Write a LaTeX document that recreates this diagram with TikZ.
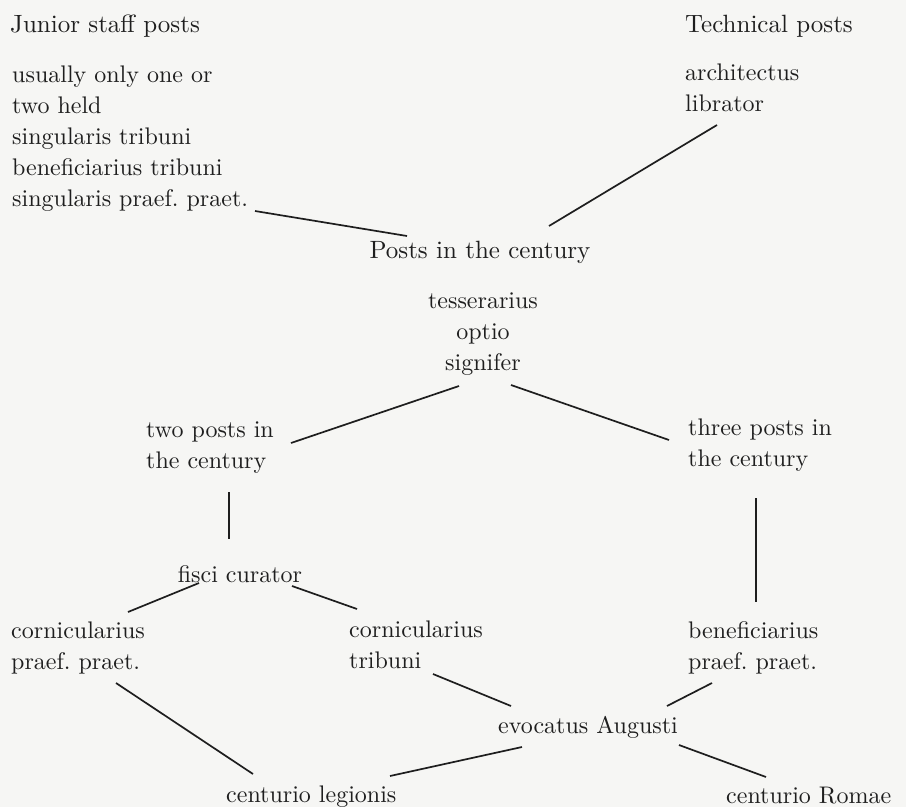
\documentclass[tikz,border=0pt]{standalone}
\usepackage{fontspec}
\setmainfont{lmroman10-regular.otf}[Ligatures=TeX]
\frenchspacing
\definecolor{ink}{HTML}{1E1E1E}
\definecolor{paper}{HTML}{F6F6F4}
\begin{document}
\begin{tikzpicture}[x=1pt,y=-1pt,
  txt/.style={inner sep=0pt, text=ink, font=\fontsize{24}{31}\selectfont, align=left, anchor=base west},
  hd/.style={txt, font=\fontsize{25}{31}\selectfont},
  mid/.style={align=center, anchor=base},
  link/.style={draw=ink, line width=1.7pt}]
\fill[paper] (0,0) rectangle (906,807);
\useasboundingbox (0,0) rectangle (906,807);

% multi-line nodes are placed by the baseline of their last line
\node[hd] (jhead) at (10,32) {Junior staff posts};
\node[txt] (jlist) at (12,206) {usually only one or\\two held\\singularis tribuni\\beneficiarius tribuni\\singularis praef. praet.};
\node[hd] (thead) at (685,32) {Technical posts};
\node[txt] (tlist) at (685,111) {architectus\\librator};
\node[hd,mid] (posts) at (480,258) {Posts in the century};
\node[txt,mid] (tos) at (483,370) {tesserarius\\optio\\signifer};
\node[txt] (two) at (146,468) {two posts in\\the century};
\node[txt] (three) at (688,466) {three posts in\\the century};
\node[txt,mid] (fisci) at (240,582) {fisci curator};
\node[txt] (cornp) at (11,669) {cornicularius\\praef. praet.};
\node[txt] (cornt) at (349,668) {cornicularius\\tribuni};
\node[txt] (benef) at (688,669) {beneficiarius\\praef. praet.};
\node[txt] (evoc) at (498,733) {evocatus Augusti};
\node[txt] (legio) at (226,802) {centurio legionis};
\node[txt] (romae) at (726,803) {centurio Romae};

\draw[link] ([shift={(243,5)}]jlist.base west) -- ([shift={(-73,-22)}]posts.base);
\draw[link] ([shift={(32,14)}]tlist.base west) -- ([shift={(69,-32)}]posts.base);
\draw[link] ([shift={(-24,16)}]tos.base) -- ([shift={(145,-25)}]two.base west);
\draw[link] ([shift={(28,15)}]tos.base) -- ([shift={(-19,-26)}]three.base west);
\draw[link] ([shift={(83,24)}]two.base west) -- ([shift={(-11,-43)}]fisci.base);
\draw[link] ([shift={(68,32)}]three.base west) -- ([shift={(68,-67)}]benef.base west);
\draw[link] ([shift={(-41,1)}]fisci.base) -- ([shift={(117,-57)}]cornp.base west);
\draw[link] ([shift={(52,4)}]fisci.base) -- ([shift={(8,-59)}]cornt.base west);
\draw[link] ([shift={(84,6)}]cornt.base west) -- ([shift={(13,-27)}]evoc.base west);
\draw[link] ([shift={(24,14)}]benef.base west) -- ([shift={(169,-27)}]evoc.base west);
\draw[link] ([shift={(105,14)}]cornp.base west) -- ([shift={(27,-28)}]legio.base west);
\draw[link] ([shift={(24,14)}]evoc.base west) -- ([shift={(164,-26)}]legio.base west);
\draw[link] ([shift={(181,12)}]evoc.base west) -- ([shift={(40,-26)}]romae.base west);
\end{tikzpicture}
\end{document}
